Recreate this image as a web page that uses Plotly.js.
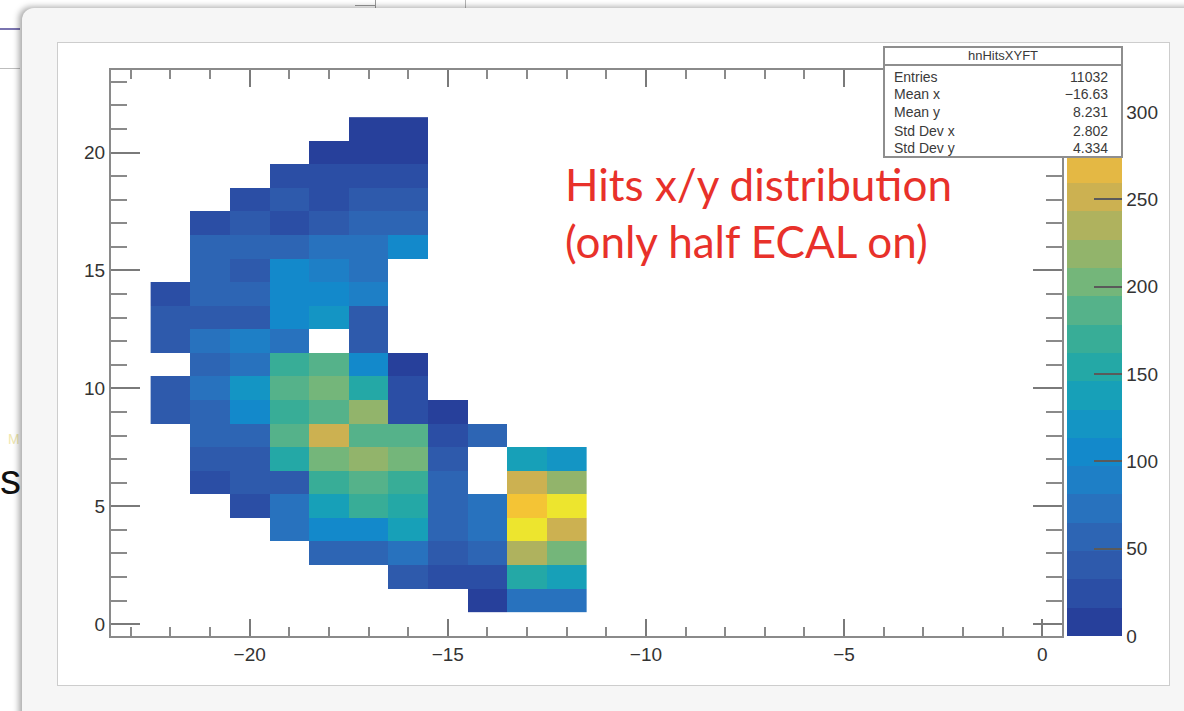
<!DOCTYPE html>
<html>
<head>
<meta charset="utf-8">
<script src="https://cdn.plot.ly/plotly-3.0.1.min.js"></script>
<style>
html,body{margin:0;padding:0;}
body{width:1184px;height:711px;overflow:hidden;position:relative;background:#fff;font-family:"Liberation Sans",Arial,sans-serif;}
#win{position:absolute;left:22px;top:8px;width:1180px;height:720px;background:#F6F6F6;border-top-left-radius:12px;box-shadow:-3px -1px 6px rgba(0,0,0,0.35);}
#pad{position:absolute;left:57px;top:42px;width:1113px;height:644px;background:#fff;border:1px solid #cdcdcd;box-sizing:border-box;}
#plot{position:absolute;left:0;top:0;width:1184px;height:711px;}
#stats{position:absolute;left:883px;top:46px;width:240px;height:112px;background:#fff;border:2px solid #8e8e8e;box-sizing:border-box;color:#3a3a3a;font-size:14px;}
#stats .ttl{position:absolute;left:0;top:0;width:100%;height:16px;border-bottom:2px solid #8e8e8e;text-align:center;font-size:13px;line-height:16px;}
#stats .row{position:absolute;left:9px;right:13px;height:16px;line-height:16px;}
#stats .row span.v{position:absolute;right:0;top:0;}
.deco{position:absolute;}
</style>
</head>
<body>
<div class="deco" style="left:0;top:28px;width:20px;height:2px;background:#7a74b0;"></div>
<div class="deco" style="left:0;top:68px;width:20px;height:1px;background:#bdbdbd;"></div>
<div class="deco" style="left:375px;top:0;width:1px;height:8px;background:#9a9a9a;"></div>
<div class="deco" style="left:355px;top:5px;width:20px;height:1px;background:#9a9a9a;"></div>
<div class="deco" style="left:465px;top:0;width:1px;height:8px;background:#b5b5b5;"></div>
<div class="deco" style="left:8px;top:432px;font-size:14px;line-height:15px;color:#efe7b0;">M</div>
<div class="deco" style="left:0;top:466px;font-size:42px;line-height:28px;color:#111;">s</div>
<div id="win"></div>
<div id="pad"></div>
<div id="plot"></div>
<div id="stats">
  <div class="ttl">hnHitsXYFT</div>
  <div class="row" style="top:21px;">Entries<span class="v">11032</span></div>
  <div class="row" style="top:38px;">Mean x<span class="v">&minus;16.63</span></div>
  <div class="row" style="top:56px;">Mean y<span class="v">8.231</span></div>
  <div class="row" style="top:75px;">Std Dev x<span class="v">2.802</span></div>
  <div class="row" style="top:92px;">Std Dev y<span class="v">4.334</span></div>
</div>
<script>
// Bin centres (1x1 bins)
const xBins = [-22, -21, -20, -19, -18, -17, -16, -15, -14, -13, -12];
const yBins = [1, 2, 3, 4, 5, 6, 7, 8, 9, 10, 11, 12, 13, 14, 15, 16, 17, 18, 19, 20, 21];
const n = null;
// Hit counts, one row per y bin (bottom to top), columns follow xBins
const counts = [
  [n, n, n, n, n, n, n, n, 12, 80, 80],            // y=1
  [n, n, n, n, n, n, 46, 30, 30, 154, 138],        // y=2
  [n, n, n, n, 64, 64, 80, 46, 55, 236, 202],      // y=3
  [n, n, n, 80, 112, 112, 136, 63, 80, 314, 255],  // y=4
  [n, n, 30, 80, 138, 170, 154, 63, 80, 285, 316], // y=5
  [n, 28, 42, 42, 170, 186, 168, 62, n, 250, 218], // y=6
  [n, 46, 45, 156, 204, 218, 202, 46, n, 138, 122],// y=7
  [n, 55, 54, 185, 250, 187, 184, 30, 57, n, n],   // y=8
  [44, 56, 104, 168, 186, 220, 30, 12, n, n, n],   // y=9
  [45, 80, 124, 188, 203, 155, 30, n, n, n, n],    // y=10
  [n, 55, 76, 170, 185, 112, 12, n, n, n, n],      // y=11
  [46, 80, 81, 72, n, 47, n, n, n, n, n],          // y=12
  [45, 44, 46, 103, 122, 44, n, n, n, n, n],       // y=13
  [26, 60, 58, 100, 104, 82, n, n, n, n, n],       // y=14
  [n, 60, 44, 100, 92, 78, n, n, n, n, n],         // y=15
  [n, 54, 52, 64, 66, 76, 105, n, n, n, n],        // y=16
  [n, 25, 43, 28, 40, 55, 57, n, n, n, n],         // y=17
  [n, n, 27, 42, 24, 38, 40, n, n, n, n],          // y=18
  [n, n, n, 28, 29, 30, 27, n, n, n, n],           // y=19
  [n, n, n, n, 14, 13, 15, n, n, n, n],            // y=20
  [n, n, n, n, n, 12, 15, n, n, n, n]              // y=21
];
const zMax = 324;
const paletteLevels = [
  '#27409B', '#2B4EA5', '#2E5AAC', '#2D65B4', '#2872BE',
  '#1E7FC6', '#1389CB', '#1495C4', '#17A0B8', '#24A8A6',
  '#38AD97', '#55B28A', '#74B67A', '#92B46B', '#AFB25E',
  '#CCB151', '#E4B844', '#F4C435', '#F4D52C', '#EDE52E'
];
const zTicks = [0, 50, 100, 150, 200, 250, 300];
const noteText = 'Hits x/y distribution<br>(only half ECAL on)';

const colorscale = [];
paletteLevels.forEach((c, i) => {
  colorscale.push([i / paletteLevels.length, c]);
  colorscale.push([(i + 1) / paletteLevels.length, c]);
});

const trace = {
  type: 'heatmap',
  x: xBins, y: yBins, z: counts,
  zmin: 0, zmax: zMax, zauto: false,
  colorscale: colorscale,
  hoverinfo: 'skip',
  colorbar: {
    x: 1.0053, xanchor: 'left', xpad: 0, ypad: 0,
    y: 0.5, yanchor: 'middle', len: 1, lenmode: 'fraction',
    thickness: 55, thicknessmode: 'pixels', outlinewidth: 0,
    ticks: 'inside', ticklen: 28, tickwidth: 2, tickcolor: '#5a5a5a',
    tickmode: 'array', tickvals: zTicks,
    tickfont: {family: '"Liberation Sans", Arial, sans-serif', size: 19, color: '#333'}
  }
};

const axisCommon = {
  showgrid: false, zeroline: false, showline: true, linecolor: '#8a8a8a', linewidth: 2,
  mirror: 'allticks', ticks: 'inside', tickwidth: 2, tickcolor: '#7a7a7a',
  tickmode: 'linear', tick0: 0, dtick: 5, fixedrange: true,
  tickfont: {family: '"Liberation Sans", Arial, sans-serif', size: 19, color: '#333'}
};

const layout = {
  width: 1184, height: 711,
  margin: {l: 111, r: 122, t: 70, b: 75, pad: 0, autoexpand: false},
  paper_bgcolor: 'rgba(0,0,0,0)', plot_bgcolor: 'rgba(0,0,0,0)',
  xaxis: Object.assign({}, axisCommon, {
    range: [-23.5, 0.5], ticklen: 17,
    minor: {dtick: 1, tick0: 0, ticks: 'inside', ticklen: 9, tickwidth: 2, tickcolor: '#8a8a8a', showgrid: false}
  }),
  yaxis: Object.assign({}, axisCommon, {
    range: [-0.5, 23.5], ticklen: 29,
    minor: {dtick: 1, tick0: 0, ticks: 'inside', ticklen: 16, tickwidth: 2, tickcolor: '#8a8a8a', showgrid: false}
  }),
  annotations: [{
    xref: 'paper', yref: 'paper', x: 0.4753, y: 0.848,
    xanchor: 'left', yanchor: 'top', align: 'left', showarrow: false,
    text: noteText,
    font: {family: 'Lato, "Open Sans", sans-serif', size: 44, color: '#E8312A'}
  }]
};

Plotly.newPlot('plot', [trace], layout, {staticPlot: true, displayModeBar: false});
</script>
</body>
</html>
